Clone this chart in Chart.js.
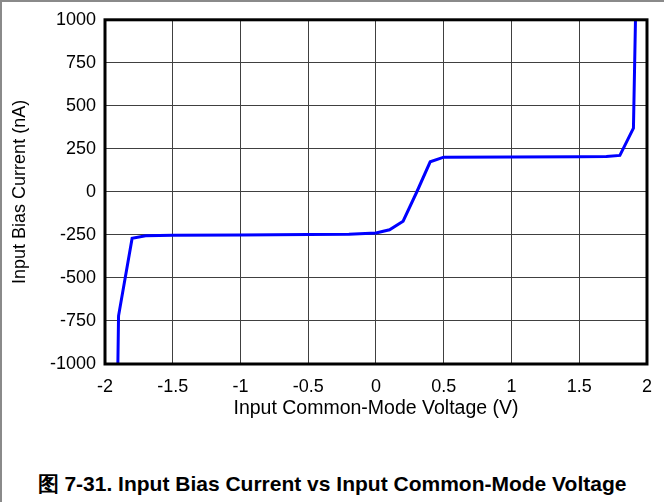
<!DOCTYPE html>
<html lang="zh">
<head>
    <meta charset="UTF-8">
    <title>Input Bias Current vs Input Common-Mode Voltage</title>
    <style>
        body {
            margin: 0;
            background-color: #fff;
            font-family: "Liberation Sans", Arial, sans-serif;
        }

        #figure {
            position: relative;
            width: 664px;
            height: 502px;
            overflow: hidden;
        }

        #chart-box {
            position: absolute;
            left: 0;
            top: 0;
            width: 664px;
            height: 440px;
        }

        /* grey frame round the figure */
        #frame {
            position: absolute;
            left: 0;
            top: 0;
            width: 664px;
            height: 502px;
            border-top: 2px solid #8a8a8a;
            border-left: 2px solid #8a8a8a;
            box-sizing: border-box;
            pointer-events: none;
        }

        #caption {
            position: absolute;
            left: 0;
            top: 471px;
            width: 664px;
            text-align: center;
            font-family: "Liberation Sans", Arial, sans-serif;
            font-weight: bold;
            font-size: 21px;
            line-height: 26px;
            color: #000;
        }
    </style>
</head>
<body>
    <div id="figure">
        <div id="chart-box">
            <canvas id="biasChart"></canvas>
        </div>
        <div id="caption">图 7-31. Input Bias Current vs Input Common-Mode Voltage</div>
        <div id="frame"></div>
    </div>

    <script src="https://cdn.jsdelivr.net/npm/chart.js"></script>
    <script>
        // Input common-mode voltage (V) and input bias current (nA)
        const voltage = [-1.905, -1.9, -1.8, -1.7, -1.5, -1.0, -0.5, -0.2, 0.0, 0.1, 0.2, 0.3, 0.4, 0.5, 1.0, 1.5, 1.7, 1.8, 1.9, 1.915];
        const biasCurrent = [-1000, -720, -270, -255, -252, -250, -248, -246, -239, -220, -170, -2, 175, 202, 203, 204, 206, 212, 370, 1000];

        const xTicks = [-2, -1.5, -1, -0.5, 0, 0.5, 1, 1.5, 2];
        const yTicks = [-1000, -750, -500, -250, 0, 250, 500, 750, 1000];

        const points = voltage.map((v, i) => ({ x: v, y: biasCurrent[i] }));

        const tickFont = { family: "'Liberation Sans', Arial, sans-serif", size: 18 };
        const xTitleFont = { family: "'Liberation Sans', Arial, sans-serif", size: 19.5 };
        const gridStyle = { color: '#404040', lineWidth: 1, drawTicks: false };

        // heavy black box round the plot area
        const plotFrame = {
            id: 'plotFrame',
            afterDatasetsDraw(chart) {
                const { ctx, chartArea } = chart;
                ctx.save();
                ctx.strokeStyle = '#000';
                ctx.lineWidth = 3;
                ctx.strokeRect(chartArea.left, chartArea.top,
                    chartArea.right - chartArea.left, chartArea.bottom - chartArea.top);
                ctx.restore();
            }
        };

        const ctx = document.getElementById('biasChart').getContext('2d');
        const biasChart = new Chart(ctx, {
            type: 'line',
            data: {
                datasets: [{
                    label: 'Input Bias Current',
                    data: points,
                    borderColor: '#0000ff',
                    borderWidth: 3,
                    pointRadius: 0,
                    tension: 0,
                    fill: false
                }]
            },
            options: {
                responsive: true,
                maintainAspectRatio: false,
                animation: false,
                layout: {
                    padding: { top: 19, right: 17, left: 0, bottom: 0 }
                },
                plugins: {
                    legend: { display: false },
                    tooltip: { enabled: false }
                },
                scales: {
                    x: {
                        type: 'linear',
                        min: -2,
                        max: 2,
                        afterBuildTicks: (scale) => {
                            scale.ticks = xTicks.map(v => ({ value: v }));
                        },
                        afterFit: (scale) => {
                            scale.height = 76;
                        },
                        grid: gridStyle,
                        border: { display: false },
                        ticks: {
                            color: '#000',
                            font: tickFont,
                            padding: 12,
                            maxRotation: 0,
                            callback: (value) => String(value)
                        },
                        title: {
                            display: true,
                            text: 'Input Common-Mode Voltage (V)',
                            color: '#000',
                            font: xTitleFont,
                            padding: { top: 0, bottom: 20 }
                        }
                    },
                    y: {
                        type: 'linear',
                        min: -1000,
                        max: 1000,
                        afterBuildTicks: (scale) => {
                            scale.ticks = yTicks.map(v => ({ value: v }));
                        },
                        afterFit: (scale) => {
                            scale.width = 105;
                        },
                        grid: gridStyle,
                        border: { display: false },
                        ticks: {
                            color: '#000',
                            font: tickFont,
                            padding: 9,
                            callback: (value) => String(value)
                        },
                        title: {
                            display: true,
                            text: 'Input Bias Current (nA)',
                            color: '#000',
                            font: tickFont,
                            padding: { top: 9, bottom: 0 }
                        }
                    }
                }
            },
            plugins: [plotFrame]
        });
    </script>
</body>
</html>
